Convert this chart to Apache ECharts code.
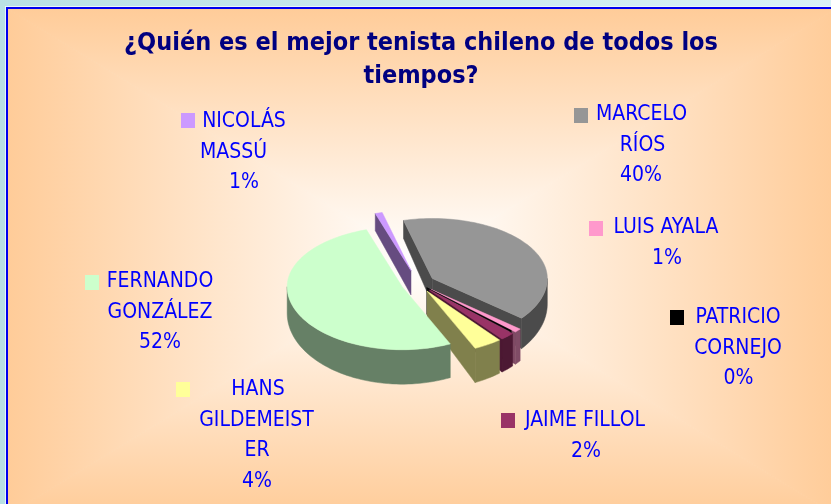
<!DOCTYPE html>
<html><head><meta charset="utf-8">
<script src="https://cdn.jsdelivr.net/npm/echarts/dist/echarts.min.js"></script>
<style>
html,body{margin:0;padding:0;width:831px;height:504px;overflow:hidden;background:linear-gradient(to right,#b9e0e4,#d8f1f6);}
#c{width:831px;height:504px;}
</style>
</head><body><div id="c"></div>
<script>
// ---------- data ----------
const categories = ['MARCELO RÍOS','LUIS AYALA','PATRICIO CORNEJO','JAIME FILLOL','HANS GILDEMEISTER','FERNANDO GONZÁLEZ','NICOLÁS MASSÚ'];
const shares = [40, 1, 0.3, 2, 4, 52, 1];
const titleLines = ['¿Quién es el mejor tenista chileno de todos los', 'tiempos?'];

// ---------- styles / layout ----------
const topColors  = ['#969696','#ff99cc','#000000','#993366','#ffff99','#ccffcc','#cc99ff'];
const sideColors = ['#4b4b4b','#804c66','#111111','#4c1933','#80804c','#668066','#664c80'];
const explode    = [17, 17, 12, 17, 17, 17, 25];
const PIE = {cx:418, cy:283.4, rx:115, ryFront:63, ryBack:60, h0:26, hk:8, start:-14.5};
const BOX = {l:8, t:9, r:836, b:515, cx:422, cy:262, inner:'#ffffff', outer:'#ffcc99'};
const labelLayout = [
  {cuts:[7],    xs:[641.5,642.5,641],   y:115, mx:574, my:108},
  {cuts:[],     xs:[666,667],           y:228, mx:589, my:221},
  {cuts:[8],    xs:[738,738,738.5],     y:318, mx:670, my:310},
  {cuts:[],     xs:[585,586],           y:421, mx:501, my:413},
  {cuts:[4,15], xs:[258,256.5,257,257], y:390, mx:176, my:382},
  {cuts:[8],    xs:[160,160,160],       y:282, mx:85,  my:275},
  {cuts:[7],    xs:[244,233.5,244],     y:122, mx:181, my:113}
];
const LH = 30.5;
const labelFont = '21px "DejaVu Sans Condensed","Liberation Sans Narrow","DejaVu Sans",sans-serif';
const titleFont = 'bold 25px "DejaVu Sans Condensed","Liberation Sans Narrow","DejaVu Sans",sans-serif';

const total = shares.reduce((a,b)=>a+b,0);
const rad = d => d*Math.PI/180;
function pt(c, th){ const co=Math.cos(rad(th)); const ry = co>0?PIE.ryBack:PIE.ryFront; return [c[0]+PIE.rx*Math.sin(rad(th)), c[1]-ry*co]; }
function down(p){ return [p[0], p[1] + PIE.h0 + PIE.hk*(p[1]-PIE.cy)/PIE.ryFront]; }
function arc(c, a, b){ const n=Math.max(2,Math.ceil((b-a)/2)); const out=[]; for(let k=0;k<=n;k++) out.push(pt(c, a+(b-a)*k/n)); return out; }

// geometry of each slice from the values
function buildSlices(vals){
  let cum = 0; const res = [];
  const ys = (PIE.ryFront+PIE.ryBack)/2/PIE.rx;
  vals.forEach((v,i)=>{
    const a1 = PIE.start + cum/total*360; cum += v; const a2 = PIE.start + cum/total*360;
    const mid = (a1+a2)/2, e = explode[i];
    const c = [PIE.cx + e*Math.sin(rad(mid)), PIE.cy - e*Math.cos(rad(mid))*ys];
    const walls = [];
    const lo = Math.max(a1,90), hi = Math.min(a2,270);
    if (lo < hi){
      const top = arc(c, lo, hi); const bot = top.map(down).reverse();
      const d = top.reduce((s,p)=>s+p[1],0)/top.length;
      walls.push({pts: top.concat(bot), depth: d});
    }
    if (Math.sin(rad(a1)) < 0){ const p=pt(c,a1); walls.push({pts:[c,p,down(p),down(c)], depth:(c[1]+p[1])/2}); }
    if (Math.sin(rad(a2)) > 0){ const p=pt(c,a2); walls.push({pts:[c,p,down(p),down(c)], depth:(c[1]+p[1])/2}); }
    const topFace = [c].concat(arc(c, a1, a2));
    res.push({walls, topFace});
  });
  return res;
}
const slices = buildSlices(shares);

function wrap(name, cuts){ const out=[]; let prev=0; cuts.forEach(c=>{out.push(name.slice(prev,c).trim()); prev=c;}); out.push(name.slice(prev).trim()); return out; }

const graphics = [];
// chart area background: "from centre" box gradient made of 4 triangles
function lin(x,y,x2,y2){ return {type:'linear', global:true, x, y, x2, y2, colorStops:[{offset:0,color:BOX.inner},{offset:1,color:BOX.outer}]}; }
const C=[BOX.cx,BOX.cy];
[
  {pts:[[BOX.l,BOX.t],[BOX.r,BOX.t],C], g:lin(0,BOX.cy,0,BOX.t)},
  {pts:[[BOX.l,BOX.b],[BOX.r,BOX.b],C], g:lin(0,BOX.cy,0,BOX.b)},
  {pts:[[BOX.l,BOX.t],[BOX.l,BOX.b],C], g:lin(BOX.cx,0,BOX.l,0)},
  {pts:[[BOX.r,BOX.t],[BOX.r,BOX.b],C], g:lin(BOX.cx,0,BOX.r,0)}
].forEach(tr=>graphics.push({type:'polygon', silent:true, z:-10, shape:{points:tr.pts}, style:{fill:tr.g, stroke:tr.g, lineWidth:1}}));
graphics.push({type:'rect', silent:true, z:-9, shape:{x:6,y:7,width:900,height:2}, style:{fill:'#0000ee'}});
graphics.push({type:'rect', silent:true, z:-9, shape:{x:6,y:7,width:2,height:600}, style:{fill:'#0000ee'}});
graphics.push({type:'rect', silent:true, z:-9, shape:{x:5,y:6,width:900,height:1}, style:{fill:'#e8f6fa'}});
graphics.push({type:'rect', silent:true, z:-9, shape:{x:5,y:6,width:1,height:600}, style:{fill:'#e8f6fa'}});
// title
titleLines.forEach((t,j)=>graphics.push({type:'text', silent:true, x:421, y:43+j*33,
  style:{text:t, fill:'#000080', font:titleFont, textAlign:'center', textVerticalAlign:'middle', verticalAlign:'middle'}}));
// data labels
categories.forEach((name,i)=>{
  const L = labelLayout[i];
  const lines = wrap(name, L.cuts);
  lines.push(Math.round(shares[i]/total*100) + '%');
  lines.forEach((t,j)=>graphics.push({type:'text', silent:true, x:L.xs[j], y:L.y + j*LH,
    style:{text:t, fill:'#0000ff', font:labelFont, textAlign:'center', textVerticalAlign:'middle', verticalAlign:'middle'}}));
  graphics.push({type:'rect', silent:true, shape:{x:L.mx, y:L.my, width:14, height:15}, style:{fill:topColors[i]}});
});

const chart = echarts.init(document.getElementById('c'), null, {renderer:'canvas'});
chart.setOption({
  backgroundColor:'transparent',
  animation:false,
  graphic: graphics,
  series:[{
    type:'custom', coordinateSystem:'none', silent:true,
    data: shares.map((v,i)=>({name:categories[i], value:v})),
    renderItem: function(params, api){
      const i = params.dataIndex, s = slices[i];
      const children = s.walls.map(w=>({type:'polygon', z2: Math.round(w.depth*10), shape:{points:w.pts}, style:{fill:sideColors[i], stroke:sideColors[i], lineWidth:0.5}}));
      children.push({type:'polygon', z2: 10000+i, shape:{points:s.topFace}, style:{fill:topColors[i], stroke:topColors[i], lineWidth:0.5}});
      return {type:'group', children};
    }
  }]
});
</script>
</body></html>
